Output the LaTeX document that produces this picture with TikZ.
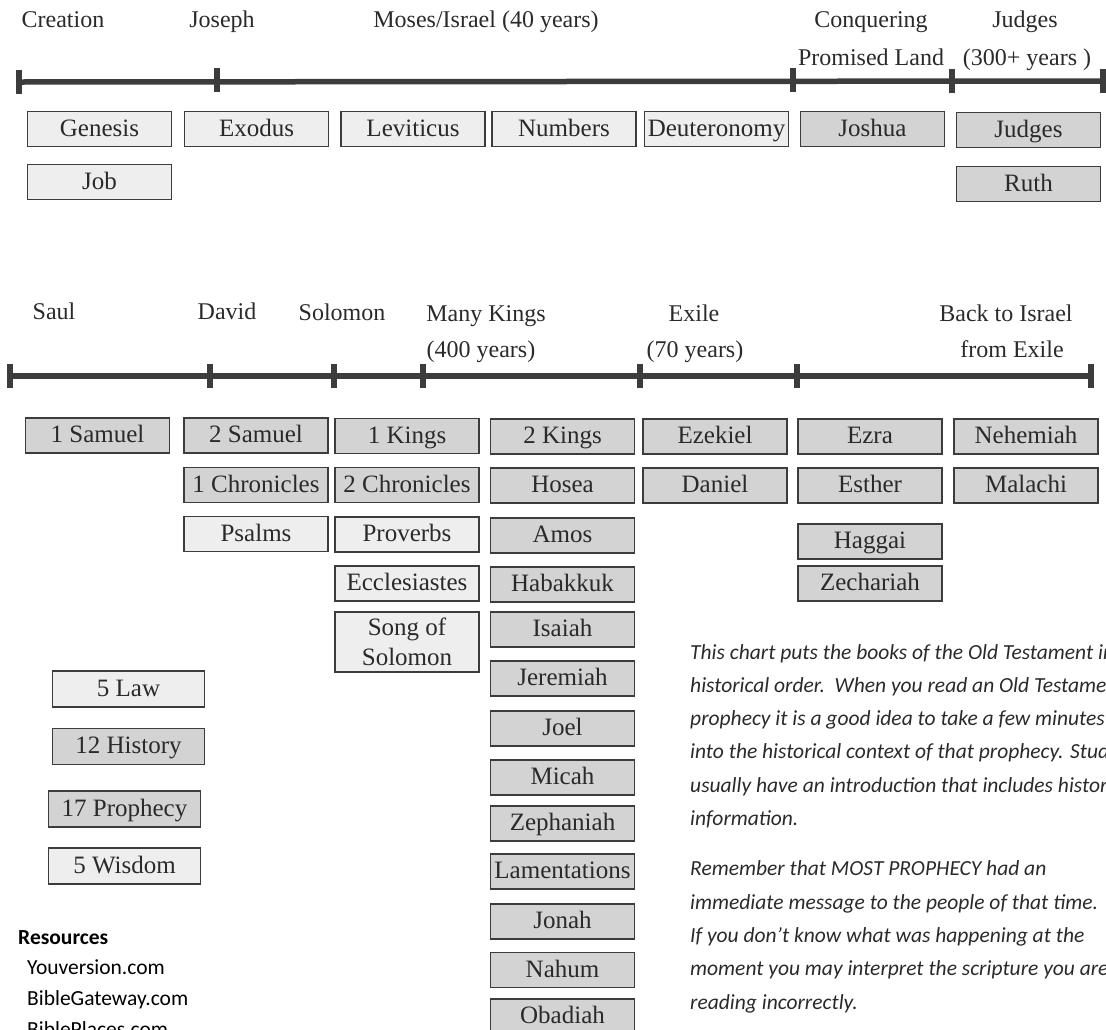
\documentclass[tikz,border=0pt]{standalone}
\usepackage{fontspec}
\setmainfont{Liberation Serif}
\newfontfamily\notefont{Carlito}
\usepackage{tikz}
\definecolor{ink}{HTML}{2A2A2A}
\definecolor{lawfill}{HTML}{EEEEEE}
\definecolor{histfill}{HTML}{D3D3D3}
\definecolor{rim}{HTML}{3C3C3C}

\begin{document}
\begin{tikzpicture}[x=1pt,y=-1pt,
      book/.style={rectangle,draw=rim,line width=1.6pt,text=ink,inner sep=0pt,
        minimum width=144pt,minimum height=35pt,align=center,
        text height=18pt,text depth=4pt,
        font=\fontsize{25}{30}\selectfont},
      lawbk/.style={book,fill=lawfill},
      histbk/.style={book,fill=histfill},
      legend/.style={minimum width=152pt,minimum height=36pt},
      tick/.style={rectangle,fill=rim,inner sep=0pt,minimum width=6pt,minimum height=24pt},
      tline/.style={draw=rim,line width=5.5pt},
      era/.style={anchor=base,text=ink,inner sep=0pt,font=\fontsize{24}{28}\selectfont},
      note/.style={anchor=base west,align=left,inner sep=0pt,text=ink}]
      \useasboundingbox (0,0) rectangle (1106,1029);
      \clip (0,0) rectangle (1106,1029);

      \node[era] (creation) at (  63, 27) {Creation};
      \node[era] (joseph)   at ( 222, 27) {Joseph};
      \node[era] (moses)    at ( 486, 27) {Moses/Israel (40 years)};
      \node[era] (conquer)  at ( 871, 27) {Conquering};
      \node[era] (promised) at ( 871, 65) {Promised Land};
      \node[era] (judgesT)  at (1025, 27) {Judges};
      \node[era] (judgesY)  at (1027, 65) {(300+ years )};

      \node[tick] (k1) at (  19, 82) {};
      \node[tick] (k2) at ( 217, 80) {};
      \node[tick] (k3) at ( 793, 80) {};
      \node[tick] (k4) at ( 952, 81) {};
      \node[tick] (k5) at (1103, 81) {};
      \draw[tline] (k1.center) -- (k5.center);

      \node[lawbk]  (genesis) at ( 99.5,129) {Genesis};
      \node[lawbk]  (exodus)  at (256.5,129) {Exodus};
      \node[lawbk]  (levit)   at (413,  129) {Leviticus};
      \node[lawbk]  (numbers) at (564,  129) {Numbers};
      \node[lawbk]  (deut)    at (716.5,129) {Deuteronomy};
      \node[histbk] (joshua)  at (872.5,129) {Joshua};
      \node[histbk] (judges)  at (1028.5,130) {Judges};
      \node[lawbk]  (job)     at ( 99.5,182) {Job};
      \node[histbk] (ruth)    at (1028.5,184) {Ruth};

      \node[era] (saul)    at (  54,319) {Saul};
      \node[era] (david)   at ( 227,319) {David};
      \node[era] (solomon) at ( 342,320) {Solomon};
      \node[era] (kings)   at ( 486,321) {Many Kings};
      \node[era] (kingsY)  at ( 481,357) {(400 years)};
      \node[era] (exile)   at ( 694,321) {Exile};
      \node[era] (exileY)  at ( 695,357) {(70 years)};
      \node[era] (back)    at (1006,321) {Back to Israel};
      \node[era] (backY)   at (1012,357) {from Exile};

      \node[tick] (m1) at (  10,376) {};
      \node[tick] (m2) at ( 210,376) {};
      \node[tick] (m3) at ( 334,376) {};
      \node[tick] (m4) at ( 423,376) {};
      \node[tick] (m5) at ( 640,376) {};
      \node[tick] (m6) at ( 797,376) {};
      \node[tick] (m7) at (1091,376) {};
      \draw[tline] (m1.center) -- (m7.center);

      \node[histbk] (sam1)   at ( 97.5,435.5) {1 Samuel};
      \node[histbk] (sam2)   at ( 256, 435.5) {2 Samuel};
      \node[histbk] (chr1)   at ( 256, 485) {1 Chronicles};
      \node[lawbk]  (psalms) at ( 256, 534) {Psalms};
      \node[histbk] (kgs1)   at ( 407, 436) {1 Kings};
      \node[histbk] (chr2)   at ( 407, 485) {2 Chronicles};
      \node[lawbk]  (prov)   at ( 407, 534.5) {Proverbs};
      \node[lawbk]  (eccl)   at ( 407, 583.5) {Ecclesiastes};
      \node[lawbk,minimum height=60pt,text height=50pt,text depth=4pt] (song) at (407,642) {Song of\\Solomon};

      \node[histbk] (kgs2)   at (562.5, 436.5) {2 Kings};
      \node[histbk] (hosea)  at (562.5, 485.5) {Hosea};
      \node[histbk] (amos)   at (562.5, 535.5) {Amos};
      \node[histbk] (habak)  at (562.5, 584.5) {Habakkuk};
      \node[histbk] (isaiah) at (562.5, 629.5) {Isaiah};
      \node[histbk] (jerem)  at (562.5, 678.5) {Jeremiah};
      \node[histbk] (joel)   at (562.5, 728.5) {Joel};
      \node[histbk] (micah)  at (562.5, 777.5) {Micah};
      \node[histbk] (zeph)   at (562.5, 823.5) {Zephaniah};
      \node[histbk] (lament) at (562.5, 871.5) {Lamentations};
      \node[histbk] (jonah)  at (562.5, 921.5) {Jonah};
      \node[histbk] (nahum)  at (562.5, 970) {Nahum};
      \node[histbk] (obad)   at (562.5,1016.5) {Obadiah};

      \node[histbk] (ezekiel) at ( 715, 436.5) {Ezekiel};
      \node[histbk] (daniel)  at ( 715, 485.5) {Daniel};
      \node[histbk] (ezra)    at ( 870, 436.5) {Ezra};
      \node[histbk] (esther)  at ( 870, 485.5) {Esther};
      \node[histbk] (haggai)  at ( 870, 541.5) {Haggai};
      \node[histbk] (zech)    at ( 870, 583.5) {Zechariah};
      \node[histbk] (nehem)   at (1026, 436.5) {Nehemiah};
      \node[histbk] (malachi) at (1026, 485.5) {Malachi};

      \node[lawbk,legend]  (law)   at (128.5,689) {5 Law};
      \node[histbk,legend] (hist)  at (128.5,746.5) {12 History};
      \node[histbk,legend] (proph) at (124.5,809) {17 Prophecy};
      \node[lawbk,legend]  (wisd)  at (124.5,866) {5 Wisdom};

      \node[note,font=\notefont\bfseries\fontsize{21.5}{31}\selectfont,text=black] (res) at (18,944) {Resources};
      \node[note,font=\notefont\fontsize{21.5}{31}\selectfont,text=black] (links) at (27,1036)
        {Youversion.com\\BibleGateway.com\\BiblePlaces.com};

      \node[note,font=\notefont\itshape\fontsize{21.5}{33.3}\selectfont] (para1) at (690,825.5)
        {This chart puts the books of the Old Testament in\\
         historical order.\ \ When you read an Old Testament\\
         prophecy it is a good idea to take a few minutes to\\
         into the historical context of that prophecy. Study\\
         usually have an introduction that includes historical\\
         information.};
      \node[note,font=\notefont\itshape\fontsize{21.5}{33.3}\selectfont] (para2) at (690,1009)
        {Remember that MOST PROPHECY had an\\
         immediate message to the people of that time.\\
         If you don’t know what was happening at the\\
         moment you may interpret the scripture you are\\
         reading incorrectly.};
\end{tikzpicture}
\end{document}
